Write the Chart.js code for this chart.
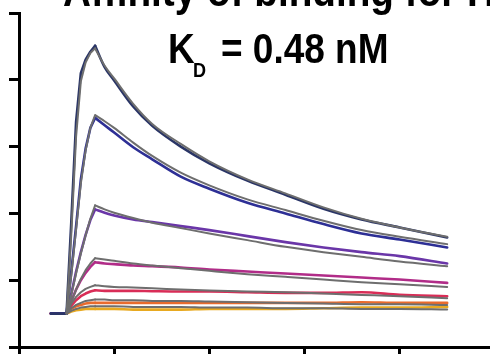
<!DOCTYPE html>
<html>
<head>
<meta charset="utf-8">
<script src="https://cdn.jsdelivr.net/npm/chart.js@4"></script>
<style>
  html, body { margin: 0; padding: 0; background: #fff; overflow: hidden; }
  #wrap { position: relative; width: 490px; height: 354px; }
</style>
</head>
<body>
<div id="wrap"><canvas id="chart" width="490" height="354"></canvas></div>
<script>
// time points (s); index 7 = end of injection
const times = [67, 100, 110, 120, 130, 140, 150, 160, 180, 200, 240, 280, 340, 400, 480, 560, 640, 720, 800, 900];
const peakIndex = 7;
const xTicks = [0, 200, 400, 600, 800];
const yTicks = [0, 10, 20, 30, 40, 50];

const titleText = "Affinity of binding for H";
const kdLabel = "K";
const kdSub = "D";
const kdValue = "= 0.48 nM";

// measured responses, highest to lowest concentration
const navyData    = [5.0, 5.0, 18.8, 33.7, 41.0, 43.0, 44.2, 45.1, 41.9, 39.9, 36.0, 33.1, 30.0, 27.5, 24.9, 22.8, 20.7, 19.1, 17.9, 16.4];
const blueData    = [5.0, 5.0, 11.3, 18.1, 25.1, 29.7, 32.8, 34.3, 33.2, 32.1, 29.9, 28.1, 25.5, 23.7, 21.6, 20.0, 18.4, 17.0, 16.1, 14.9];
const purpleData  = [5.0, 5.0, 8.0, 11.3, 14.2, 16.8, 19.0, 20.6, 20.1, 19.7, 19.1, 18.7, 18.1, 17.5, 16.6, 15.7, 14.9, 14.2, 13.6, 12.5];
const magentaData = [5.0, 5.0, 6.9, 8.6, 10.0, 11.1, 12.0, 12.7, 12.5, 12.4, 12.2, 12.1, 11.9, 11.6, 11.3, 11.0, 10.7, 10.4, 10.1, 9.6];
const redData     = [5.0, 5.0, 6.2, 7.0, 7.6, 8.0, 8.3, 8.5, 8.4, 8.4, 8.4, 8.35, 8.3, 8.3, 8.2, 8.1, 8.1, 8.2, 7.8, 7.6];
const orangeData  = [5.0, 5.0, 5.7, 6.1, 6.3, 6.5, 6.6, 6.6, 6.6, 6.6, 6.6, 6.6, 6.6, 6.6, 6.6, 6.6, 6.6, 6.7, 6.6, 6.6];
const yellowData  = [5.0, 5.0, 5.3, 5.5, 5.6, 5.7, 5.7, 5.7, 5.7, 5.7, 5.6, 5.6, 5.6, 5.7, 5.7, 5.7, 5.8, 5.9, 5.9, 6.0];

// 1:1 model fits (gray)
const navyFit    = [5.0, 5.0, 17.0, 31.5, 39.8, 42.6, 44.0, 44.7, 42.1, 40.2, 36.4, 33.4, 30.4, 27.8, 25.1, 23.0, 20.9, 19.2, 17.9, 16.5];
const blueFit    = [5.0, 5.0, 10.8, 17.6, 24.5, 29.4, 32.8, 34.7, 33.8, 32.8, 30.6, 28.6, 26.1, 24.2, 22.1, 20.5, 18.9, 17.5, 16.5, 15.4];
const purpleFit  = [5.0, 5.0, 7.8, 11.0, 14.0, 16.7, 19.2, 21.2, 20.6, 20.1, 19.3, 18.6, 17.8, 17.0, 16.0, 15.0, 14.2, 13.5, 12.8, 12.1];
const magentaFit = [5.0, 5.0, 6.8, 8.6, 10.2, 11.5, 12.5, 13.3, 13.1, 12.9, 12.5, 12.2, 11.8, 11.4, 10.9, 10.5, 10.1, 9.7, 9.4, 9.0];
const redFit     = [5.0, 5.0, 6.5, 7.5, 8.2, 8.7, 9.0, 9.25, 9.1, 9.0, 8.9, 8.8, 8.6, 8.45, 8.3, 8.2, 8.0, 7.8, 7.6, 7.3];
const orangeFit  = [5.0, 5.0, 5.8, 6.3, 6.6, 6.9, 7.0, 7.1, 7.1, 7.0, 7.0, 6.9, 6.9, 6.8, 6.7, 6.6, 6.5, 6.4, 6.4, 6.3];
const yellowFit  = [5.0, 5.0, 5.4, 5.7, 5.9, 6.0, 6.1, 6.1, 6.1, 6.1, 6.0, 6.0, 6.0, 5.9, 5.9, 5.8, 5.8, 5.7, 5.7, 5.6];

const measured = [navyData, blueData, purpleData, magentaData, redData, orangeData, yellowData];
const fits = [navyFit, blueFit, purpleFit, magentaFit, redFit, orangeFit, yellowFit];
const colors = ["#2a3566", "#2d2f95", "#6a36a8", "#b12c88", "#d92d57", "#e96b2d", "#e8a920"];
const fitColor = "#6e6e6e";

// association drawn straight, dissociation smoothed, so the peak stays sharp
function curveDatasets(values, color, width, order, withBaseline) {
  const pts = times.map((t, i) => ({ x: t, y: values[i] }));
  const common = {
    borderColor: color,
    borderWidth: width,
    pointRadius: 0,
    fill: false,
    order: order,
    borderJoinStyle: "round",
    borderCapStyle: "round",
  };
  return [
    { ...common, data: pts.slice(withBaseline ? 0 : 1, peakIndex + 1), tension: 0 },
    { ...common, data: pts.slice(peakIndex), cubicInterpolationMode: "monotone" },
  ];
}

const datasets = [];
measured.forEach((vals, i) => datasets.push(...curveDatasets(vals, colors[i], 2.6, 2, true)));
fits.forEach((vals) => datasets.push(...curveDatasets(vals, fitColor, 2, 1, false)));

const textPlugin = {
  id: "textPlugin",
  afterDraw(chart) {
    const ctx = chart.ctx;
    ctx.save();
    ctx.fillStyle = "#000";
    ctx.textBaseline = "alphabetic";

    // title, cut off at the top of the picture
    ctx.save();
    ctx.translate(63, 6);
    ctx.scale(0.86, 1);
    ctx.font = "bold 45px 'Liberation Sans', Arial, sans-serif";
    ctx.fillText(titleText, 0, 0);
    ctx.restore();

    // K_D = 0.48 nM
    ctx.save();
    ctx.translate(168, 63);
    ctx.scale(0.86, 1);
    ctx.font = "bold 43px 'Liberation Sans', Arial, sans-serif";
    ctx.fillText(kdLabel, 0, 0);
    ctx.restore();

    ctx.save();
    ctx.translate(193, 77);
    ctx.scale(0.86, 1);
    ctx.font = "bold 21px 'Liberation Sans', Arial, sans-serif";
    ctx.fillText(kdSub, 0, 0);
    ctx.restore();

    ctx.save();
    ctx.translate(221, 63);
    ctx.scale(0.86, 1);
    ctx.font = "bold 43px 'Liberation Sans', Arial, sans-serif";
    ctx.fillText(kdValue, 0, 0);
    ctx.restore();

    ctx.restore();
  },
};

const axisStyle = (tickLength) => ({
  grid: {
    display: true,
    drawOnChartArea: false,
    drawTicks: true,
    tickLength: tickLength,
    color: "#000",
    lineWidth: 3,
  },
  border: { display: true, color: "#000", width: 3 },
});

new Chart(document.getElementById("chart"), {
  type: "line",
  data: { datasets },
  options: {
    responsive: false,
    animation: false,
    layout: { padding: { left: 9, top: 13, right: 0, bottom: 0 } },
    plugins: {
      legend: { display: false },
      tooltip: { enabled: false },
    },
    scales: {
      x: {
        type: "linear",
        min: 0,
        max: 990,
        ticks: { display: false },
        afterBuildTicks: (scale) => { scale.ticks = xTicks.map((v) => ({ value: v })); },
        ...axisStyle(7),
      },
      y: {
        type: "linear",
        min: 0,
        max: 50,
        ticks: { display: false },
        afterBuildTicks: (scale) => { scale.ticks = yTicks.map((v) => ({ value: v })); },
        ...axisStyle(10),
      },
    },
  },
  plugins: [textPlugin],
});
</script>
</body>
</html>
